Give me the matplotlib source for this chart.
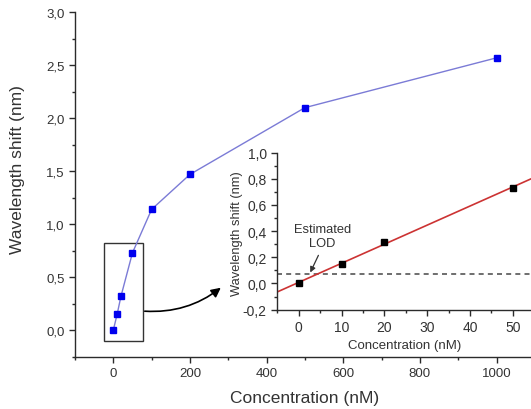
import numpy as np
import matplotlib
matplotlib.use('Agg')
import matplotlib.pyplot as plt
from matplotlib.ticker import MultipleLocator, FuncFormatter
from matplotlib.patches import Rectangle, FancyArrowPatch

plt.rcParams['font.family'] = ['Liberation Sans', 'DejaVu Sans']

# data
conc = [0, 10, 20, 50, 100, 200, 500, 1000]
shift = [0.0, 0.15, 0.32, 0.73, 1.14, 1.47, 2.10, 2.57]

inset_conc = [0, 10, 20, 50]
inset_shift = [0.0, 0.15, 0.32, 0.73]
lod_level = 0.07

axis_color = '#2b2b2b'


def comma(v, pos):
    return f'{v:.1f}'.replace('.', ',')


def style_axes(ax, tick_size):
    for side in ('top', 'right'):
        ax.spines[side].set_visible(False)
    for side in ('left', 'bottom'):
        ax.spines[side].set_color(axis_color)
        ax.spines[side].set_linewidth(1.0)
    ax.tick_params(which='both', direction='out', colors=axis_color, labelcolor='#333333',
                   labelsize=tick_size, width=1.0)
    ax.tick_params(which='major', length=4.5, pad=3)
    ax.tick_params(which='minor', length=2.5)


fig = plt.figure(figsize=(5.31, 4.10), dpi=100)

# main plot
ax = fig.add_axes([0.1412, 0.1276, 0.866, 0.840])
ax.plot(conc, shift, color='#7b7bd6', lw=1.0, marker='s', markersize=5,
        markerfacecolor='#0000ee', markeredgecolor='#0000ee', zorder=3)
ax.set_xlim(-100, 1100)
ax.set_ylim(-0.25, 3.0)
ax.xaxis.set_major_locator(MultipleLocator(200))
ax.xaxis.set_minor_locator(MultipleLocator(100))
ax.yaxis.set_major_locator(MultipleLocator(0.5))
ax.yaxis.set_minor_locator(MultipleLocator(0.25))
ax.yaxis.set_major_formatter(FuncFormatter(comma))
style_axes(ax, 9.5)
ax.set_xlabel('Concentration (nM)', fontsize=12.5, color='#333333')
ax.set_ylabel('Wavelength shift (nm)', fontsize=12.5, color='#333333')
ax.xaxis.set_label_coords(0.5, -0.097)
ax.yaxis.set_label_coords(-0.108, 0.545)

# zoom box around the low concentrations
ax.add_patch(Rectangle((-25, -0.105), 102, 0.925, fill=False, edgecolor='#333333', lw=1.0, zorder=2))

# inset
ins = fig.add_axes([0.5222, 0.2422, 0.484, 0.3834])
ins.set_facecolor('none')
slope, icpt = np.polyfit(inset_conc, inset_shift, 1)
xfit = np.array([-5, 55])
ins.plot(xfit, slope * xfit + icpt, color='#cc3333', lw=1.2, zorder=2)
ins.axhline(lod_level, color='#555555', lw=1.2, ls=(0, (3, 2.5)), zorder=1)
ins.plot(inset_conc, inset_shift, ls='none', marker='s', markersize=5,
         color='black', zorder=3)
ins.set_xlim(-5, 55)
ins.set_ylim(-0.2, 1.0)
ins.xaxis.set_major_locator(MultipleLocator(10))
ins.xaxis.set_minor_locator(MultipleLocator(5))
ins.yaxis.set_major_locator(MultipleLocator(0.2))
ins.yaxis.set_minor_locator(MultipleLocator(0.1))
ins.yaxis.set_major_formatter(FuncFormatter(comma))
style_axes(ins, 10)
ins.set_xlabel('Concentration (nM)', fontsize=9.5, color='#333333')
ins.set_ylabel('Wavelength shift (nm)', fontsize=9.3, color='#333333')
ins.xaxis.set_label_coords(0.497, -0.186)
ins.yaxis.set_label_coords(-0.133, 0.488)

ins.text(5.5, 0.36, 'Estimated\nLOD', ha='center', va='center', fontsize=9.3,
         color='#333333', linespacing=1.2)
ins.annotate('', xy=(2.7, 0.084), xytext=(4.6, 0.215),
             arrowprops=dict(arrowstyle='-|>', color='#333333', lw=0.9,
                             mutation_scale=8, shrinkA=0, shrinkB=0))

# curved arrow from zoom box to inset
arrow = FancyArrowPatch((142 / 531, 1 - 312 / 410), (223 / 531, 1 - 287 / 410),
                        transform=fig.transFigure, connectionstyle='arc3,rad=0.2',
                        arrowstyle='-|>', mutation_scale=14, color='black', lw=1.2)
fig.patches.append(arrow)

fig.savefig('out.png', dpi=100)
